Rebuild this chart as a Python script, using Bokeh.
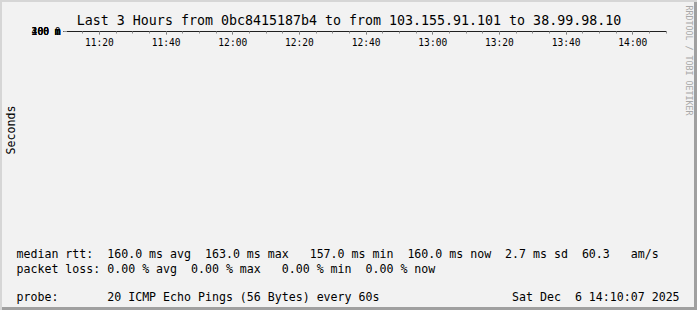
import math
from bokeh.plotting import figure
from bokeh.models import FixedTicker, Label, Range1d, Legend, LegendItem
from bokeh.embed import file_html
from bokeh.resources import INLINE

# ---------------- data ----------------
# window start: 11:10:07, length 3 hours; times are minutes after window start
START = 11 * 60 + 10 + 7 / 60.0
SPAN = 180.0

tick_labels = ["11:20", "11:40", "12:00", "12:20", "12:40", "13:00", "13:20", "13:40", "14:00"]
y_tick_values = [0, 100, 200, 300, 400]
y_tick_labels = ["0", "100 m", "200 m", "300 m", "400 m"]

# median rtt (ms), stepwise: value holds from time until next time
median_t = [0.0, 18.9, 23.9, 32.9, 93.9, 171.9, 174.9, 175.9, 178.9]
median_ms = [157, 162, 163, 157, 163, 159, 163, 159, 159]

# smoke (ping spread) per minute: start time, low ms, high ms, shade level (0 light .. 2 dark)
smoke_t = [58.9, 59.9, 66.9,
           71.9, 71.9, 72.9, 72.9, 72.9,
           105.9, 106.9,
           113.9, 113.9, 114.9, 114.9, 114.9,
           120.9, 121.9, 121.9, 122.9, 122.9, 122.9, 123.9, 126.9,
           131.9, 143.9, 144.9, 146.9, 147.9,
           164.9, 164.9, 165.9, 165.9, 166.9,
           174.9, 174.9, 175.9, 175.9]
smoke_lo = [157, 157, 157,
            157, 169, 157, 200, 235,
            163, 163,
            163, 192, 163, 205, 257,
            163, 163, 192, 163, 180, 214, 163, 163,
            163, 163, 163, 163, 163,
            163, 170, 163, 175, 163,
            163, 171, 159, 182]
smoke_hi = [168, 192, 159,
            169, 188, 200, 235, 248,
            203, 287,
            192, 203, 205, 257, 291,
            171, 192, 218, 180, 214, 255, 175, 173,
            165, 168, 175, 166, 166,
            170, 180, 175, 186, 170,
            171, 190, 182, 195]
smoke_shade = [0, 0, 0,
               1, 0, 2, 1, 0,
               0, 0,
               1, 0, 2, 1, 0,
               0, 1, 0, 2, 1, 0, 0, 0,
               0, 0, 0, 0, 0,
               1, 0, 1, 0, 0,
               1, 0, 1, 0]

rtt_head = "median rtt:"
rtt_items = ["160.0 ms avg", "163.0 ms max", "157.0 ms min", "160.0 ms now", "2.7 ms sd", "60.3   am/s"]
loss_head = "packet loss:"
loss_items = ["0.00 % avg", "0.00 % max", "0.00 % min", "0.00 % now"]
color_head = "loss color:"
loss_labels = ["0", "1", "2", "3", "4-5", "6-10", "11-19", "20/20"]
loss_colors = ["#26ff00", "#00b8ff", "#0059ff", "#7e00ff", "#ff00ff", "#ff5500", "#ff0000", "#a10000"]
probe_head = "probe:"
probe_text = "20 ICMP Echo Pings (56 Bytes) every 60s"
stamp_text = "Sat Dec  6 14:10:07 2025"
title_text = "Last 3 Hours from 0bc8415187b4 to from 103.155.91.101 to 38.99.98.10"
y_label_text = "Seconds"
credit_text = "RRDTOOL / TOBI OETIKER"

# ---------------- layout ----------------
W, H = 697, 310
FL, FR, FT, FB = 66, 666, 31, 228   # frame edges in canvas pixels
MONO = "DejaVu Sans Mono"
SHADES = ["#d0d0d0", "#a8a8a8", "#808080"]
FS = 11.6      # legend font size (px)
CH = 7.0       # legend char width
GAP = 16.0     # gap between legend items
COL2 = 107.0   # start of first legend item

p = figure(width=W, height=H, output_backend="svg", toolbar_location=None,
           x_range=Range1d(START, START + SPAN), y_range=Range1d(0, 422),
           min_border_left=FL, min_border_right=W - FR, min_border_top=FT,
           min_border_bottom=H - FB, title_location=None)
p.outline_line_color = None
p.background_fill_color = "white"
p.border_fill_color = "#f2f2f2"
p.border_fill_alpha = 0.0
p.styles = {"background-color": "#f2f2f2",
            "box-shadow": "inset 2px 2px 0 #d6d6d6, inset -3px -3px 0 #a0a0a0"}

def clock(s):
    h, m = s.split(":")
    return int(h) * 60 + int(m)

xt = [clock(s) for s in tick_labels]
x_minor = [m for m in range(int(math.ceil(START)), int(START + SPAN) + 1) if m % 5 == 0]
y_minor = list(range(0, 421, 20))

p.xaxis.ticker = FixedTicker(ticks=xt, minor_ticks=x_minor)
p.xaxis.major_label_overrides = {t: s for t, s in zip(xt, tick_labels)}
p.yaxis.ticker = FixedTicker(ticks=y_tick_values, minor_ticks=y_minor)
p.yaxis.major_label_overrides = {v: s for v, s in zip(y_tick_values, y_tick_labels)}
for ax in (p.xaxis, p.yaxis):
    ax.axis_line_color = "#202020"
    ax.major_tick_in = 0
    ax.minor_tick_in = 0
    ax.major_tick_out = 3
    ax.minor_tick_out = 2
    ax.major_tick_line_color = "#606060"
    ax.minor_tick_line_color = "#909090"
    ax.major_label_text_font = MONO
    ax.major_label_text_font_size = "9.6px"
    ax.major_label_text_color = "black"
p.xaxis.major_label_standoff = 2
p.yaxis.major_label_standoff = 3

for g in (p.xgrid, p.ygrid):
    g.grid_line_color = "#f08a8a"
    g.grid_line_dash = "1 2"
    g.grid_line_width = 1
    g.minor_grid_line_color = "#bdbdbd"
    g.minor_grid_line_dash = "1 2"

# smoke
p.quad(left=[START + t for t in smoke_t], right=[START + t + 1 for t in smoke_t],
       bottom=smoke_lo, top=smoke_hi,
       fill_color=[SHADES[s] for s in smoke_shade], line_color=None)

# median line
p.step(x=[START + t for t in median_t], y=median_ms, mode="after",
       line_color="#26ff00", line_width=3)

# ---------------- texts: one label per legend line, in canvas pixels, in side panels
NB = "\u00a0"

def keep_spaces(s):
    out = []
    prev_space = False
    for ch in s:
        if ch == " " and prev_space:
            out.append(NB)
        else:
            out.append(ch)
        prev_space = ch in (" ", NB)
    return "".join(out)

def text(x, y, s, size, color="black", align="left", angle=0.0, side="below"):
    p.add_layout(Label(x=x, y=y, x_units="canvas", y_units="canvas", text=keep_spaces(s),
                       text_font=MONO, text_font_size=f"{size}px", text_color=color,
                       text_align=align, text_baseline="middle", angle=angle), side)

def layout_line(head, items, first=COL2):
    # put items on the monospace grid as close as possible to RRDtool's flow
    s = head
    x = first
    for it in items:
        col = int(round((x - 16) / CH))
        s = s + " " * max(1, col - len(s)) + it
        x += CH * len(it) + GAP
    return s

text(W / 2, 19.5, title_text, 13.3, align="center", side="above")
text(10, 129.5, y_label_text, FS, align="center", angle=math.pi / 2, side="left")
text(688.5, 60, credit_text, 8.3, color="#a8a8a8", align="center", angle=-math.pi / 2, side="right")

text(16, 253.5, layout_line(rtt_head, rtt_items), FS)
text(16, 268, layout_line(loss_head, loss_items), FS)

# loss colour row: a real Bokeh legend, swatches from (empty) quad renderers
swatches = [p.quad(left=[], right=[], bottom=[], top=[], fill_color=c, line_color="black")
            for c in loss_colors]
legend = Legend(items=[LegendItem(label=lab, renderers=[r]) for lab, r in zip(loss_labels, swatches)],
                orientation="horizontal", location=(16 - FL, -2),
                title=color_head, title_location="left",
                title_text_font=MONO, title_text_font_size=f"{FS}px",
                title_text_font_style="normal", title_text_color="black",
                title_standoff=int(108 - (16 + CH * len(color_head))),
                label_text_font=MONO, label_text_font_size=f"{FS}px", label_text_color="black",
                glyph_width=8, glyph_height=8, label_standoff=6, spacing=int(GAP),
                label_width=0, label_height=0, padding=0, margin=0,
                border_line_color=None, background_fill_alpha=0.0)
p.add_layout(legend, "below")

probe_line = layout_line(probe_head, [probe_text])
stamp_col = int(round((681 - 16) / CH)) - len(stamp_text)
probe_line = probe_line + " " * max(1, stamp_col - len(probe_line)) + stamp_text
text(16, 296.5, probe_line, FS)

open("out.html", "w").write(file_html(p, INLINE))
